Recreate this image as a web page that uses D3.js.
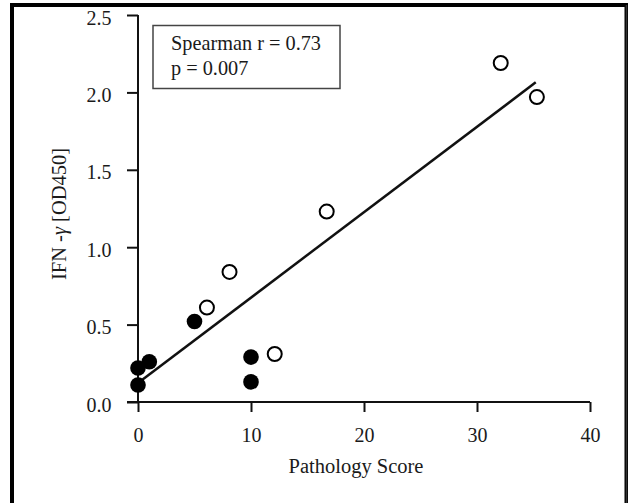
<!DOCTYPE html>
<html>
<head>
<meta charset="utf-8">
<script src="https://cdn.jsdelivr.net/npm/d3@7"></script>
<style>
  html, body { margin: 0; padding: 0; background: #fff; }
  svg { display: block; }
  svg text { font-family: "Liberation Serif", "Times New Roman", Times, serif !important; fill: #1a1a1a; }
</style>
</head>
<body>
<svg id="chart" width="628" height="503"></svg>
<script>
// Pathology score vs IFN-gamma (OD450)
const groupOpenScore = [32.1, 35.3, 16.7, 8.1, 6.1, 12.1];
const groupOpenIfn   = [2.19, 1.97, 1.23, 0.84, 0.61, 0.31];
const groupFilledScore = [5.0, 10.0, 10.0, 0.0, 0.0, 1.0];
const groupFilledIfn   = [0.52, 0.29, 0.13, 0.22, 0.11, 0.26];
// fitted line end points
const fitScore = [0.35, 35.2];
const fitIfn   = [0.142, 2.065];
const xTickValues = [0, 10, 20, 30, 40];
const yTickValues = [0, 0.5, 1.0, 1.5, 2.0, 2.5];
const yTickLabels = ["0.0", "0.5", "1.0", "1.5", "2.0", "2.5"];
const statLines = ["Spearman r = 0.73", "p = 0.007"];

const serif = "'Liberation Serif', 'Times New Roman', Times, serif";
const svg = d3.select("#chart");
const ink = "#111";

// frame around the figure
svg.append("path")
  .attr("d", "M12,503 V5 H626.5 V503")
  .attr("fill", "none").attr("stroke", "#000").attr("stroke-width", 4);
svg.append("line")
  .attr("x1", 626.5).attr("x2", 626.5).attr("y1", 5).attr("y2", 503)
  .attr("stroke", "#333").attr("stroke-width", 1.5);

const x = d3.scaleLinear().domain([0, 40]).range([138, 590]);
const y = d3.scaleLinear().domain([0, 2.5]).range([402, 15]);

// y axis
const gy = svg.append("g").attr("transform", `translate(${x(0)},0)`)
  .call(d3.axisLeft(y).tickValues(yTickValues)
    .tickFormat((d, i) => yTickLabels[i])
    .tickSize(11).tickSizeOuter(0).tickPadding(15.5));
gy.attr("font-family", null).attr("font-size", null);
gy.select(".domain").remove();
gy.selectAll(".tick line").attr("stroke", ink).attr("stroke-width", 2);
gy.selectAll(".tick text").style("font-size", "20px").attr("dy", "0.45em")
  .style("font-family", serif).attr("fill", "#1a1a1a");
svg.append("line")
  .attr("x1", x(0)).attr("x2", x(0)).attr("y1", y(2.5)).attr("y2", y(0))
  .attr("stroke", ink).attr("stroke-width", 2);

// x axis
const gx = svg.append("g").attr("transform", `translate(0,${y(0)})`)
  .call(d3.axisBottom(x).tickValues(xTickValues)
    .tickSize(10).tickSizeOuter(0).tickPadding(15.5));
gx.attr("font-family", null).attr("font-size", null);
gx.select(".domain").remove();
gx.selectAll(".tick line").attr("stroke", ink).attr("stroke-width", 2);
gx.selectAll(".tick text").style("font-size", "20px")
  .style("font-family", serif).attr("fill", "#1a1a1a");
svg.append("line")
  .attr("x1", x(0) - 11).attr("x2", x(40)).attr("y1", y(0)).attr("y2", y(0))
  .attr("stroke", ink).attr("stroke-width", 2);

// axis titles
svg.append("text")
  .attr("x", 356).attr("y", 472.5)
  .attr("text-anchor", "middle")
  .style("font-family", serif).style("font-size", "20.5px")
  .text("Pathology Score");

const yTitle = svg.append("text")
  .attr("transform", "translate(66,214) rotate(-90)")
  .attr("text-anchor", "middle")
  .style("font-family", serif).style("font-size", "20.5px");
yTitle.append("tspan").text("IFN -");
yTitle.append("tspan").attr("font-style", "italic").text("γ");
yTitle.append("tspan").text(" [OD450]");

// statistics box
svg.append("rect")
  .attr("x", 153).attr("y", 25.5).attr("width", 187).attr("height", 63)
  .attr("fill", "#fff").attr("stroke", "#444").attr("stroke-width", 1.5);
svg.selectAll("text.stat").data(statLines).join("text")
  .attr("class", "stat")
  .attr("x", 171).attr("y", (d, i) => 49.5 + i * 25.5)
  .style("font-family", serif).style("font-size", "20.3px")
  .text(d => d);

// fitted line
svg.append("line")
  .attr("x1", x(fitScore[0])).attr("y1", y(fitIfn[0]))
  .attr("x2", x(fitScore[1])).attr("y2", y(fitIfn[1]))
  .attr("stroke", ink).attr("stroke-width", 2.5);

// points
const filled = groupFilledScore.map((s, i) => ({ s, v: groupFilledIfn[i] }));
const open = groupOpenScore.map((s, i) => ({ s, v: groupOpenIfn[i] }));

svg.append("g").selectAll("circle").data(filled).join("circle")
  .attr("cx", d => x(d.s)).attr("cy", d => y(d.v)).attr("r", 7.8)
  .attr("fill", "#000");

svg.append("g").selectAll("circle").data(open).join("circle")
  .attr("cx", d => x(d.s)).attr("cy", d => y(d.v)).attr("r", 7)
  .attr("fill", "#fff").attr("stroke", "#000").attr("stroke-width", 2);
</script>
</body>
</html>
